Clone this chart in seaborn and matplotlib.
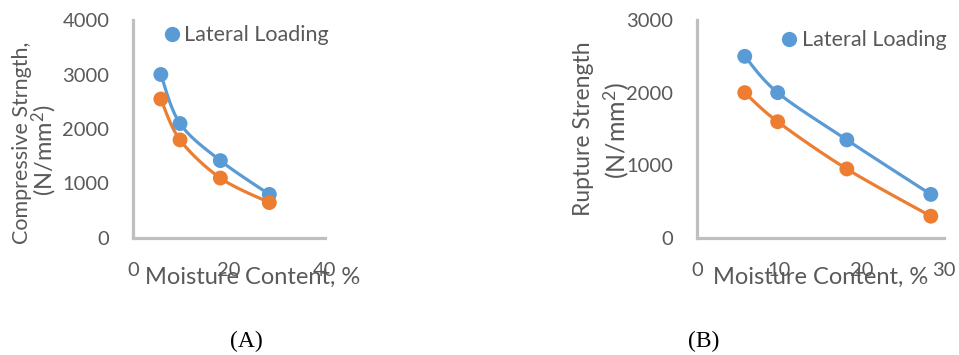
import numpy as np
import pandas as pd
import matplotlib
matplotlib.use("Agg")
import matplotlib.pyplot as plt
from matplotlib.lines import Line2D
import seaborn as sns

# Moisture content (%) of the samples
moisture = [5.8, 9.8, 18.2, 28.4]

# (A) compressive strength, N/mm^2
comp_lateral = [3000, 2100, 1420, 800]
comp_longitudinal = [2550, 1800, 1100, 650]

# (B) rupture strength, N/mm^2
rupt_lateral = [2500, 2000, 1350, 600]
rupt_longitudinal = [2000, 1600, 950, 300]

xticks_a = [0, 20, 40]
yticks_a = [0, 1000, 2000, 3000, 4000]
xticks_b = [0, 10, 20, 30]
yticks_b = [0, 1000, 2000, 3000]

BLUE = "#5B9BD5"
ORANGE = "#ED7D31"
AXIS_GREY = "#BFBFBF"
TEXT_GREY = "#595959"

sns.set_style("white")
plt.rcParams["font.family"] = ["Lato", "DejaVu Sans"]
plt.rcParams["mathtext.fontset"] = "custom"
plt.rcParams["mathtext.rm"] = "Lato"
plt.rcParams["mathtext.it"] = "Lato:italic"
plt.rcParams["mathtext.bf"] = "Lato:bold"


def smooth(xs, ys, n=40):
    """Catmull-Rom spline through the points (Excel-style smoothed line)."""
    p = np.column_stack([xs, ys]).astype(float)
    p = np.vstack([p[0], p, p[-1]])
    out = []
    t = np.linspace(0, 1, n)[:, None]
    for i in range(1, len(p) - 2):
        p0, p1, p2, p3 = p[i - 1], p[i], p[i + 1], p[i + 2]
        seg = 0.5 * ((2 * p1) + (-p0 + p2) * t
                     + (2 * p0 - 5 * p1 + 4 * p2 - p3) * t ** 2
                     + (-p0 + 3 * p1 - 3 * p2 + p3) * t ** 3)
        out.append(seg if i == 1 else seg[1:])
    c = np.vstack(out)
    return c[:, 0], c[:, 1]


def draw_series(ax, xs, ys, color):
    cx, cy = smooth(xs, ys)
    sns.lineplot(x=cx, y=cy, ax=ax, color=color, lw=2.3, sort=False,
                 estimator=None)
    sns.scatterplot(x=xs, y=ys, ax=ax, color=color, s=115, edgecolor="none",
                    linewidth=0, zorder=3)


def style_axes(ax, xticks, yticks):
    ax.set_xlim(xticks[0], xticks[-1])
    ax.set_ylim(yticks[0], yticks[-1])
    ax.set_xticks(xticks)
    ax.set_yticks(yticks)
    for side in ("top", "right"):
        ax.spines[side].set_visible(False)
    for side in ("left", "bottom"):
        ax.spines[side].set_color(AXIS_GREY)
        ax.spines[side].set_linewidth(2.3)
    ax.tick_params(direction="in", length=5, width=2.3, color=AXIS_GREY,
                   labelsize=14.5, labelcolor=TEXT_GREY, pad=17)
    ax.set_xlabel("")
    ax.set_ylabel("")


fig = plt.figure(figsize=(9.59, 3.55), dpi=100)
W, H = 959, 355


def px_axes(l, r, b, t):
    return fig.add_axes([l / W, 1 - b / H, (r - l) / W, (b - t) / H])


ax_a = px_axes(133, 325, 238, 20)
ax_b = px_axes(697, 944, 238, 20)

for ax, lat, lon in ((ax_a, comp_lateral, comp_longitudinal),
                     (ax_b, rupt_lateral, rupt_longitudinal)):
    draw_series(ax, moisture, lat, BLUE)
    draw_series(ax, moisture, lon, ORANGE)

style_axes(ax_a, xticks_a, yticks_a)
style_axes(ax_b, xticks_b, yticks_b)
for ax in (ax_a, ax_b):
    for art in ax.collections + ax.lines:
        art.set_clip_on(False)

handle = Line2D([], [], ls="none", marker="o", ms=11, color=BLUE,
                markeredgewidth=0)
for ax, anchor in ((ax_a, (0.156, 0.929)), (ax_b, (0.336, 0.908))):
    ax.legend([handle], ["Lateral Loading"], loc="center left",
              bbox_to_anchor=anchor, frameon=False, borderpad=0,
              borderaxespad=0, handlelength=0.8, handletextpad=0.2,
              prop={"size": 15.5}, labelcolor=TEXT_GREY)

# axis titles
unit = r"(N/mm$^{2}$)"
fig.text(253 / W, 1 - 284 / H, "Moisture Content, %", ha="center",
         va="baseline", fontsize=17, color=TEXT_GREY)
fig.text(821 / W, 1 - 284 / H, "Moisture Content, %", ha="center",
         va="baseline", fontsize=17, color=TEXT_GREY)
fig.text(22 / W, 1 - 143 / H, "Compressive Strngth,", rotation=90,
         ha="center", va="center", fontsize=15.5, color=TEXT_GREY)
fig.text(44 / W, 1 - 150 / H, unit, rotation=90,
         ha="center", va="center", fontsize=17, color=TEXT_GREY)
fig.text(584 / W, 1 - 128.5 / H, "Rupture Strength", rotation=90,
         ha="center", va="center", fontsize=16.5, color=TEXT_GREY)
fig.text(616 / W, 1 - 131 / H, unit, rotation=90,
         ha="center", va="center", fontsize=18, color=TEXT_GREY)

# panel captions
fig.text(246 / W, 1 - 341 / H, "(A)", ha="center", va="center",
         fontsize=17, family="Liberation Serif", color="black")
fig.text(704 / W, 1 - 341 / H, "(B)", ha="center", va="center",
         fontsize=17, family="Liberation Serif", color="black")

fig.savefig("out.png", dpi=100)
